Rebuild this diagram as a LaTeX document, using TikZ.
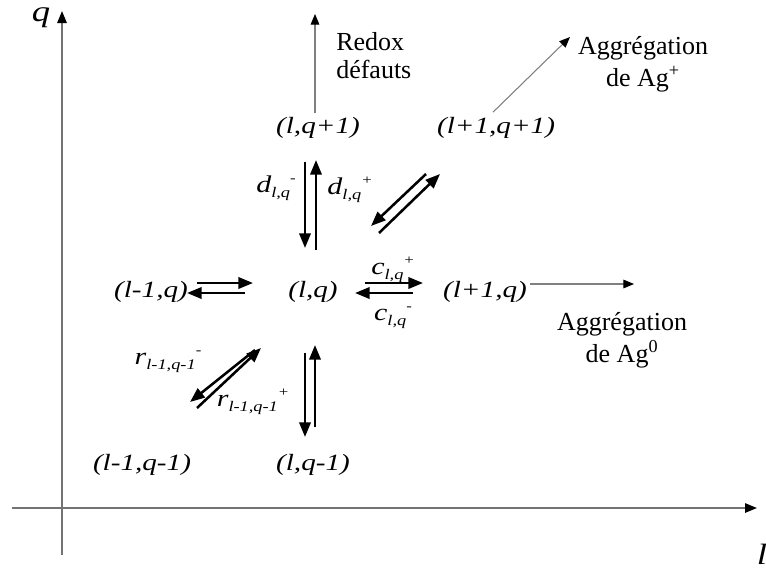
\documentclass[tikz,border=0pt]{standalone}
\usepackage{fontspec}
\setmainfont{Liberation Serif}
\newfontfamily\itf{Liberation Serif}[FakeStretch=1.25]
\usetikzlibrary{arrows.meta}
\newcommand\rate[3]{#1\raisebox{-0.5ex}{\fontsize{11}{12}\selectfont #2}\raisebox{0.85ex}{\fontsize{10}{11}\selectfont #3}}
\tikzset{
  state/.style={font=\itf\itshape\fontsize{17.5}{20}\selectfont, inner sep=0pt},
  axlbl/.style={font=\itf\itshape\fontsize{22}{24}\selectfont, inner sep=0pt},
  ratelbl/.style={font=\itf\itshape\fontsize{18}{20}\selectfont, inner sep=0pt},
  note/.style={font=\fontsize{19.5}{24}\selectfont, inner sep=0pt, align=center},
  react/.style={line width=1.9pt, -{Triangle[length=11pt,width=8.5pt]}},
  axis/.style={line width=1.4pt, draw=black!55, -{Triangle[color=black,length=9pt,width=7pt]}},
  thin/.style={line width=0.8pt, draw=black!50, -{Triangle[color=black,length=8pt,width=6.5pt]}}
}
\begin{document}
\begin{tikzpicture}[x=0.75pt,y=-0.75pt]
\fill[white] (0,0) rectangle (766,572);
\useasboundingbox (0,0) rectangle (766,572);
% axes
\coordinate (qbot) at (62,555);
\coordinate (qtop) at (62,11);
\coordinate (lleft) at (12,508);
\coordinate (lright) at (757,508);
\draw[axis] (qbot) -- (qtop);
\draw[axis] (lleft) -- (lright);
\node[axlbl] (qlab) at (41,18) {q};
\node[axlbl] (llab) at (762,554) {l};
% states
\node[state] (lq1) at (318,128) {(l,q+1)};
\node[state] (l1q1) at (496,128) {(l+1,q+1)};
\node[state] (lm1q) at (151,292) {(l-1,q)};
\node[state] (lq) at (313,292) {(l,q)};
\node[state] (l1q) at (485,292) {(l+1,q)};
\node[state] (lm1qm1) at (142,465) {(l-1,q-1)};
\node[state] (lqm1) at (313,465) {(l,q-1)};
% notes
\node[note, align=left, anchor=west, font=\fontsize{19.5}{21}\selectfont] (redox) at (336,56) {Redox\\défauts};
\node[note] (agp) at (643,64) {Aggrégation\\de Ag\textsuperscript{+}};
\node[note] (ag0) at (622,340) {Aggrégation\\de Ag\textsuperscript{0}};
% outgoing thin arrows
\coordinate (redoxtip) at (315,14);
\coordinate (agptip) at (570,37);
\coordinate (ag0tip) at (634,284);
\draw[thin] (lq1.north -| 315,0) ++(0,-4) -- (redoxtip);
\draw[thin] (l1q1.north) ++(-3,-5) -- (agptip);
\draw[thin] (l1q.east) ++(3,-8) -- (ag0tip);
% double arrows: (l-1,q) <-> (l,q)
\draw[react] (197,283) -- (253,283);
\draw[react] (245,293) -- (187,293);
% (l,q) <-> (l+1,q)
\draw[react] (365,283) -- (423,283);
\draw[react] (413,293) -- (355,293);
% (l,q+1) <-> (l,q)
\draw[react] (305,162) -- (305,248);
\draw[react] (316,250) -- (316,160);
% (l,q) <-> (l,q-1)
\draw[react] (305,353) -- (305,437);
\draw[react] (315,427) -- (315,345);
% (l,q) <-> (l+1,q+1)
\draw[react] (426,174) -- (371,226);
\draw[react] (379,233) -- (440,174);
% (l-1,q-1) <-> (l,q)
\draw[react] (255,350) -- (190,402);
\draw[react] (197,408) -- (261,348);
% rate labels
\node[ratelbl] (dm) at (276,188) {\rate{d}{l,q}{-}};
\node[ratelbl] (dp) at (350,190) {\rate{d}{l,q}{+}};
\node[ratelbl] (cp) at (393,270) {\rate{c}{l,q}{+}};
\node[ratelbl] (cm) at (393,318) {\rate{c}{l,q}{-}};
\node[ratelbl] (rm) at (168,362) {\rate{r}{l-1,q-1}{-}};
\node[ratelbl] (rp) at (253,402) {\rate{r}{l-1,q-1}{+}};
\end{tikzpicture}
\end{document}
